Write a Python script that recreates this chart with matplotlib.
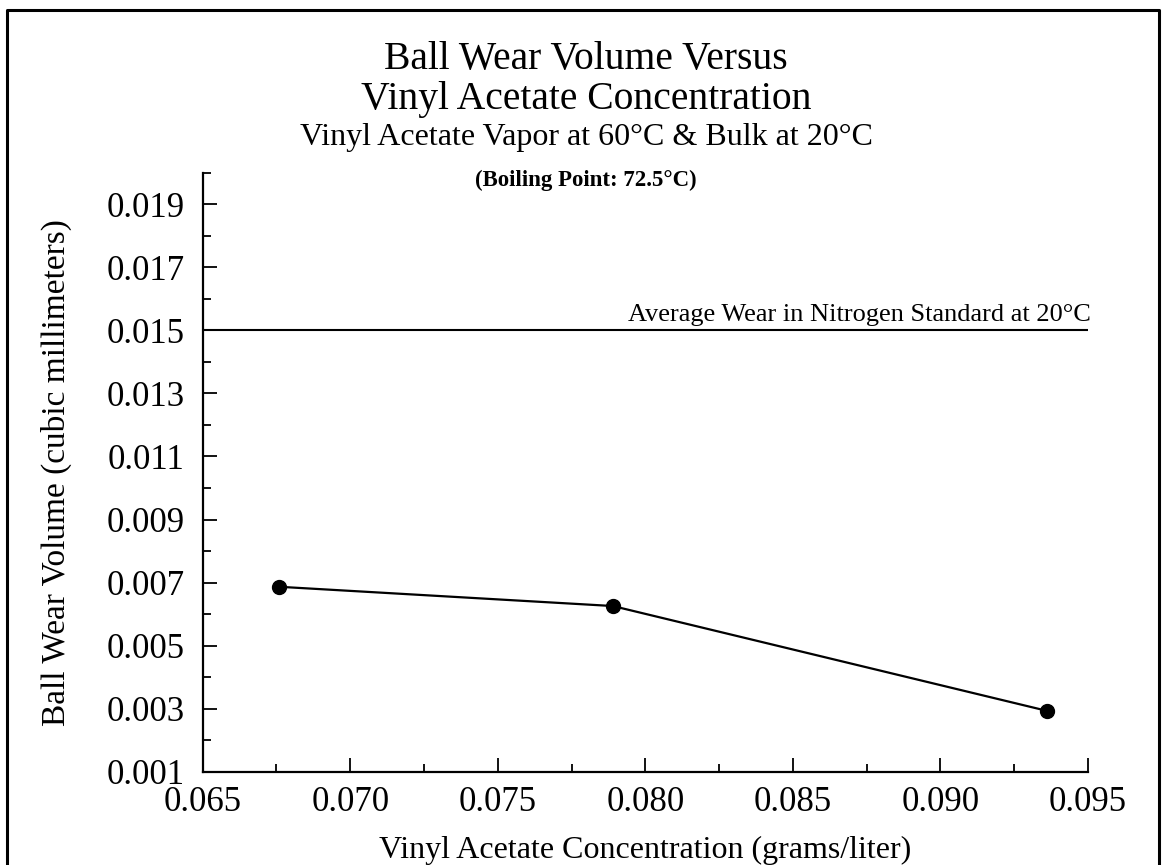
import matplotlib
matplotlib.use("Agg")
import matplotlib.pyplot as plt
from matplotlib.lines import Line2D
from matplotlib.ticker import MultipleLocator, FormatStrFormatter

# data
concentration = [0.0676, 0.0789, 0.0936]
wear_volume = [0.00687, 0.00626, 0.00294]
nitrogen_avg = 0.015

x_ticks = [0.065, 0.070, 0.075, 0.080, 0.085, 0.090, 0.095]
y_ticks = [0.001, 0.003, 0.005, 0.007, 0.009, 0.011, 0.013, 0.015, 0.017, 0.019]

plt.rcParams['font.family'] = ['Liberation Serif', 'DejaVu Serif']

W, H = 1164, 865
fig = plt.figure(figsize=(W / 100, H / 100), dpi=100, facecolor='white')
ax = fig.add_axes([202.7 / W, 1 - 772 / H, (1088 - 202.7) / W, (772 - 172.5) / H])

ax.plot(concentration, wear_volume, color='black', lw=1.6, marker='o',
        markersize=10, markerfacecolor='black', markeredgecolor='black',
        clip_on=False)
ax.plot([0.065, 0.095], [nitrogen_avg, nitrogen_avg], color='black', lw=1.5)
ax.text(0.0951, nitrogen_avg + 0.00012, 'Average Wear in Nitrogen Standard at 20°C',
        ha='right', va='bottom', fontsize=19)

ax.set_xlim(0.065, 0.095)
ax.set_ylim(0.001, 0.020)
ax.set_xticks(x_ticks)
ax.set_yticks(y_ticks)
ax.xaxis.set_minor_locator(MultipleLocator(0.0025))
ax.yaxis.set_minor_locator(MultipleLocator(0.001))
ax.xaxis.set_major_formatter(FormatStrFormatter('%.3f'))
ax.yaxis.set_major_formatter(FormatStrFormatter('%.3f'))

for s in ['top', 'right']:
    ax.spines[s].set_visible(False)
for s in ['left', 'bottom']:
    ax.spines[s].set_linewidth(1.6)

ax.tick_params(which='major', direction='in', length=10, width=1.3,
               labelsize=25, pad=10)
ax.tick_params(which='minor', direction='in', length=6, width=1.3)
ax.tick_params(axis='y', which='major', pad=13)

ax.set_xlabel('Vinyl Acetate Concentration (grams/liter)', fontsize=23, labelpad=12)
ax.set_ylabel('Ball Wear Volume (cubic millimeters)', fontsize=24, labelpad=25)

cx = 586 / W
fig.text(cx, 1 - 60 / H, 'Ball Wear Volume Versus', ha='center', va='center', fontsize=28.5)
fig.text(cx, 1 - 100 / H, 'Vinyl Acetate Concentration', ha='center', va='center', fontsize=28.5)
fig.text(cx, 1 - 138 / H, 'Vinyl Acetate Vapor at 60°C & Bulk at 20°C',
         ha='center', va='center', fontsize=23)
fig.text(cx, 1 - 180 / H, '(Boiling Point: 72.5°C)', ha='center', va='center',
         fontsize=16.5, fontweight='bold')

# frame around the whole page
fx = [7 / W, 7 / W, 1159 / W, 1159 / W]
fy = [0.0, 1 - 10 / H, 1 - 10 / H, 0.0]
fig.add_artist(Line2D(fx, fy, color='black', lw=2.2, transform=fig.transFigure))

fig.savefig('out.png', dpi=100, facecolor='white')
